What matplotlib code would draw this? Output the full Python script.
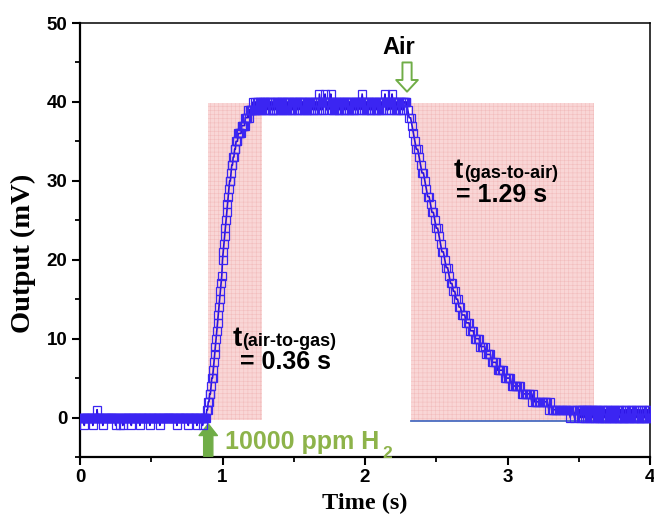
import numpy as np
import matplotlib
matplotlib.use("Agg")
import matplotlib.pyplot as plt
from matplotlib.patches import Rectangle
from matplotlib.font_manager import FontProperties

# ---------------- data ----------------
FINE_DT = 0.005
COARSE_DT = 0.01

base_t0 = 0.00
base_v = [0, 0, 0, 0, 0, 0, -1, 0, 0, 0, 0, 0, 0, 0, 0, 0, 0, 0, -1, 0,
          0, 0, 0, 0, 1, 0, 0, 0, 0, 0, 0, 0, -1, 0, 0, 0, 0, 0, 0, 0,
          0, 0, 0, 0, 0, 0, 0, 0, 0, 0, -1, 0, 0, 0, 0, 0, -1, 0, 0, 0,
          -1, 0, 0, 0, 0, 0, 0, 0, 0, 0, 0, 0, -1, 0, 0, 0, 0, 0, 0, 0,
          0, 0, 0, 0, -1, 0, 0, 0, 0, 0, 0, 0, 0, 0, 0, 0, 0, 0, -1, 0,
          0, 0, 0, 0, 0, 0, 0, 0, 0, 0, 0, 0, -1, 0, 0, 0, 0, 0, 0, 0,
          0, 0, 0, 0, 0, 0, 0, 0, 0, 0, 0, 0, 0, 0, 0, 0, -1, 0, 0, 0,
          0, 0, 0, 0, 0, 0, 0, 0, 0, 0, 0, 0, -1, 0, 0, 0, 0, 0, 0, 0,
          0, 0, 0, 0, -1, 0, 0, 0, 0, 0, 0, 0, -1, 0, 0, 0]

rise_t0 = 0.88
rise_v = [0, 0, 1, 1, 2, 2, 3, 3, 4, 5, 5, 6, 7, 8, 9, 10, 11, 12, 13, 14,
          15, 16, 17, 18, 20, 21, 22, 23, 24, 25, 26, 27, 28, 29, 30, 30, 31, 32, 32, 33,
          33, 34, 34, 35, 35, 35, 36, 36, 36, 36, 36, 37, 37, 37, 37, 37, 38, 38, 38, 38,
          39, 38, 39, 39, 39, 39, 39, 40, 39, 39, 40, 39, 40, 39, 40, 39, 40, 40, 39, 40,
          39, 40, 40, 39]

plat_t0 = 1.30
plat_v = [40, 39, 40, 40, 39, 40, 39, 40, 40, 39, 40, 39, 39, 40, 40, 39, 40, 40, 39, 40,
          39, 40, 40, 39, 40, 39, 40, 40, 39, 40, 40, 39, 40, 39, 40, 40, 39, 40, 39, 40,
          40, 39, 40, 40, 39, 40, 39, 40, 40, 39, 40, 39, 40, 40, 39, 40, 40, 39, 40, 39,
          40, 40, 39, 40, 39, 40, 40, 39, 40, 39, 40, 40, 39, 40, 40, 39, 41, 40, 39, 40,
          40, 39, 40, 40, 41, 40, 39, 40, 40, 39, 40, 40, 41, 40, 39, 40, 40, 39, 40, 39,
          40, 40, 39, 40, 39, 40, 40, 39, 40, 40, 39, 40, 39, 40, 40, 39, 40, 39, 40, 40,
          39, 40, 40, 39, 40, 39, 40, 40, 39, 40, 40, 39, 40, 40, 39, 40, 41, 40, 39, 40,
          40, 39, 40, 40, 39, 40, 40, 39, 40, 39, 40, 40, 39, 40, 40, 39, 40, 39, 40, 40,
          39, 40, 40, 39, 40, 39, 40, 40, 41, 40, 39, 40, 40, 39, 40, 40, 39, 40, 41, 40,
          40, 39, 40, 40, 39, 40, 39, 40, 40, 39, 40, 40, 39, 40, 39, 40, 40, 40]

decay_t0 = 2.29
decay_v = [40, 39, 38, 38, 37, 36, 35, 34, 34, 33, 32, 31, 31, 30, 29, 28, 28, 27, 26, 26,
           25, 24, 24, 23, 22, 21, 21, 20, 19, 19, 18, 17, 17, 16, 16, 15, 15, 14, 14, 13,
           13, 13, 12, 12, 12, 11, 11, 11, 10, 10, 10, 10, 9, 9, 9, 9, 8, 8, 8, 8,
           7, 7, 7, 7, 6, 6, 6, 6, 6, 5, 5, 5, 5, 5, 4, 4, 4, 4, 4, 4,
           4, 3, 3, 3, 3, 3, 3, 3, 2, 3, 2, 2, 2, 2, 2, 2, 2, 2, 2, 2,
           1, 2, 1, 1, 1, 1, 1, 1, 1, 1, 1, 1, 1, 1, 1, 0, 1, 1, 0, 1,
           1, 0]

tail_t0 = 3.505
tail_v = [1, 1, 0, 1, 1, 0, 1, 1, 0, 1, 0, 1, 1, 0, 1, 0, 1, 1, 0, 1,
          0, 1, 0, 1, 1, 0, 1, 0, 0, 1, 0, 1, 0, 1, 0, 0, 1, 0, 1, 0,
          1, 0, 0, 1, 0, 1, 0, 0, 1, 0, 1, 0, 0, 1, 0, 1, 0, 0, 1, 0,
          0, 1, 0, 0, 1, 0, 1, 0, 0, 1, 0, 0, 1, 0, 1, 0, 0, 1, 0, 0,
          1, 0, 1, 0, 0, 1, 0, 0, 1, 0, 1, 0, 0, 1, 0, 0, 1, 0, 1, 0]

# shaded response windows (time start, time end, output low, output high)
win1 = (0.90, 1.275, -0.3, 39.9)
win2 = (2.32, 3.61, -0.4, 39.9)

x_ticks = [0, 1, 2, 3, 4]
y_ticks = [0, 10, 20, 30, 40, 50]

# ---------------- assemble series ----------------
def seg(t0, dt, vals):
    return t0 + dt * np.arange(len(vals)), np.asarray(vals, float)

parts = [seg(base_t0, FINE_DT, base_v), seg(rise_t0, FINE_DT, rise_v),
         seg(plat_t0, FINE_DT, plat_v), seg(decay_t0, COARSE_DT, decay_v),
         seg(tail_t0, FINE_DT, tail_v)]
t = np.concatenate([p[0] for p in parts])
v = np.concatenate([p[1] for p in parts])

# ---------------- figure ----------------
plt.rcParams['hatch.linewidth'] = 0.4
fig = plt.figure(figsize=(6.54, 5.17), dpi=100)
ax = fig.add_axes([80 / 654, 60 / 517, 570 / 654, 434 / 517])

pink = '#f9d6d6'
for (x0, x1, y0, y1) in (win1, win2):
    ax.add_patch(Rectangle((x0, y0), x1 - x0, y1 - y0, facecolor=pink,
                           edgecolor='#f2bdbd', hatch='++++', linewidth=0, zorder=1))
ax.plot([win2[0], 4.0], [win2[2], win2[2]], color='#4a6cc0', lw=1.3, zorder=2)

ax.plot(t, v, color='#2a0fe0', lw=1.2, zorder=3)
ax.plot(t, v, linestyle='none', marker='s', markersize=5.2, markerfacecolor='none',
        markeredgecolor='#3b25f2', markeredgewidth=0.9, zorder=4)

ax.set_xlim(0, 4)
ax.set_ylim(-5, 50)
ax.set_xticks(x_ticks)
ax.set_yticks(y_ticks)
ax.set_xticks([0.5, 1.5, 2.5, 3.5], minor=True)
ax.set_yticks([-5, 5, 15, 25, 35, 45], minor=True)
ax.set_xticklabels([str(x) for x in x_ticks])
ax.set_yticklabels([str(y) for y in y_ticks])

tickfp = FontProperties(family='Liberation Sans', weight='bold', size=13.5)
for lab in ax.get_xticklabels() + ax.get_yticklabels():
    lab.set_fontproperties(tickfp)
ax.tick_params(which='major', direction='out', length=6, width=1.5, pad=3)
ax.tick_params(which='minor', direction='out', length=3.5, width=1.3)
ax.tick_params(top=False, right=False)
for s in ('left', 'bottom'):
    ax.spines[s].set_linewidth(1.6)
for s in ('top', 'right'):
    ax.spines[s].set_linewidth(1.1)

fig.text(365 / 654, 1 - 503 / 517, 'Time (s)', family='Liberation Serif', weight='bold',
         size=17.5, ha='center', va='center')
fig.text(23 / 654, 1 - 253 / 517, 'Output (mV)', family='Liberation Serif', weight='bold',
         size=20.5, ha='center', va='center', rotation=90)

# annotations
bold = dict(family='Liberation Sans', weight='bold', color='black')


def t_label(x, y, sub):
    ax.text(x, y, 't', size=20, **bold)
    ax.annotate(sub, xy=(x, y), xytext=(7.0, 0), textcoords='offset points',
                size=13, **bold)


t_label(1.072, 9.1, '(air-to-gas)')
ax.text(1.123, 6.1, '= 0.36 s', size=18, **bold)

t_label(2.625, 30.3, '(gas-to-air)')
ax.text(2.640, 27.3, '= 1.29 s', size=18, **bold)

ax.text(2.12, 46.1, 'Air', size=17, **bold)

green_txt = '#8db34a'
ax.text(1.018, -4.0, '10000 ppm H', size=18, family='Liberation Sans', weight='bold',
        color=green_txt)
ax.text(2.12, -5.1, '2', size=12.5, family='Liberation Sans', weight='bold',
        color=green_txt, clip_on=False)

arrow_green = '#70ad47'
ax.annotate('', xy=(0.90, -0.8), xytext=(0.90, -4.9),
            arrowprops=dict(arrowstyle='simple,head_length=0.7,head_width=1.1,tail_width=0.55',
                            fc=arrow_green, ec=arrow_green, shrinkA=0, shrinkB=0,
                            mutation_scale=12), annotation_clip=False)
ax.annotate('', xy=(2.295, 41.3), xytext=(2.295, 45.0),
            arrowprops=dict(arrowstyle='simple,head_length=0.7,head_width=1.3,tail_width=0.55',
                            fc='white', ec=arrow_green, lw=1.4, shrinkA=0, shrinkB=0,
                            mutation_scale=12))

fig.savefig('out.png', dpi=100)
